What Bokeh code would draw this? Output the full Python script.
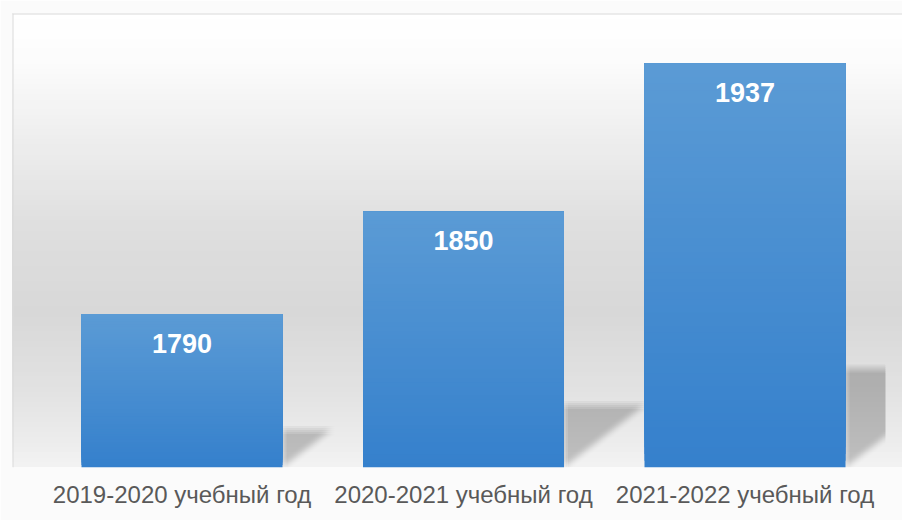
import numpy as np
from bokeh.plotting import figure
from bokeh.models import Range1d, FixedTicker, Span
from bokeh.core.properties import value
from bokeh.embed import file_html
from bokeh.resources import INLINE

# ---------------- data ----------------
categories = ["2019-2020 учебный год", "2020-2021 учебный год", "2021-2022 учебный год"]
students = [1790, 1850, 1937]
axis_min = 1700

# ---------------- layout ----------------
W, H = 902, 520
ML, MT, MB = 12, 13, 53
FW, FH = W - ML, H - MT - MB
px_x = 281.5           # pixels per category
px_y = 1.705           # pixels per student
bar_w = 0.714
x0 = 0.5 - 169.5 / px_x
x1 = x0 + FW / px_x
y0 = axis_min
y1 = axis_min + FH / px_y

p = figure(width=W, height=H, output_backend="svg", toolbar_location=None,
           x_range=Range1d(x0, x1), y_range=Range1d(y0, y1),
           y_axis_location=None,
           min_border_left=ML, min_border_top=MT, min_border_right=0, min_border_bottom=MB)
p.grid.visible = False
p.outline_line_color = None
p.background_fill_color = "white"
p.border_fill_color = "#fbfbfb"

# ---------------- background gradient ----------------
stops_f = [0.0, 0.10, 0.30, 0.48, 0.66, 0.83, 0.94, 1.0]
stops_g = [255, 252, 236, 222, 216, 226, 236, 243]
NB = 90
bl, br, bb, bt, bc = [], [], [], [], []
for j in range(NB):
    f_bot = 1 - j / NB
    f_mid = 1 - (j + 0.5) / NB
    g = int(round(np.interp(f_mid, stops_f, stops_g)))
    bl.append(x0); br.append(x1)
    bb.append(y1 - f_bot * (y1 - y0)); bt.append(y1)
    bc.append("#%02x%02x%02x" % (g, g, g))
p.quad(left=bl, right=br, bottom=bb, top=bt, fill_color=bc, line_color=None)

# ---------------- shadows ----------------
k_sh, s_sh = 0.245, 0.32
x_clip = len(categories)
blur = [-4.0, -2.0, 0.0, 2.0, 4.0]
a_each = 1 - (1 - 0.19) ** (1 / (len(blur) ** 2))
xs_all, ys_all = [], []
for i, v in enumerate(students):
    xr = i + 0.5 + bar_w / 2
    hp = (v - axis_min) * px_y
    K, S = k_sh * hp, s_sh * hp
    for dx in blur:
        for dy in blur:
            c = (x_clip - xr) * px_x - dx
            if S > c:
                pts = [(0, 0), (c, K * c / S), (c, K), (0, K)]
            else:
                pts = [(0, 0), (S, K), (0, K)]
            xs_all.append([xr + (px + dx) / px_x for px, py in pts])
            ys_all.append([axis_min + (py + dy) / px_y for px, py in pts])
p.patches(xs_all, ys_all, fill_color="black", fill_alpha=a_each, line_color=None)

# ---------------- bars with vertical gradient ----------------
top_rgb = np.array([0x5b, 0x9b, 0xd5])
bot_rgb = np.array([0x35, 0x80, 0xcc])
NS = 60
ql, qr, qb, qt, qc = [], [], [], [], []
for i, v in enumerate(students):
    for j in range(NS):
        t = (j + 0.5) / NS
        rgb = bot_rgb + (top_rgb - bot_rgb) * t
        ql.append(i + 0.5 - bar_w / 2); qr.append(i + 0.5 + bar_w / 2)
        qb.append(axis_min + (v - axis_min) * j / NS); qt.append(v)
        qc.append("#%02x%02x%02x" % tuple(int(round(c)) for c in rgb))
p.quad(left=ql, right=qr, bottom=qb, top=qt, fill_color=qc, line_color=None)

# ---------------- value labels ----------------
p.text(x=[i + 0.5 for i in range(len(students))],
       y=[v - 29 / px_y for v in students],
       text=[str(v) for v in students],
       text_align="center", text_baseline="middle",
       text_font=value("Liberation Sans"), text_font_style="bold",
       text_font_size="27px", text_color="white")

# ---------------- frame border ----------------
p.add_layout(Span(location=x0, dimension="height", line_color="#d9d9d9", line_width=2))
p.add_layout(Span(location=y1, dimension="width", line_color="#d9d9d9", line_width=2))

# ---------------- axis ----------------
ax = p.xaxis[0]
ax.ticker = FixedTicker(ticks=[i + 0.5 for i in range(len(categories))])
ax.major_label_overrides = {i + 0.5: c for i, c in enumerate(categories)}
ax.axis_line_color = None
ax.major_tick_line_color = None
ax.minor_tick_line_color = None
ax.major_label_standoff = 7
ax.major_label_text_font = "Liberation Sans"
ax.major_label_text_font_size = "24px"
ax.major_label_text_color = "#595959"

open("out.html", "w").write(file_html(p, INLINE))
